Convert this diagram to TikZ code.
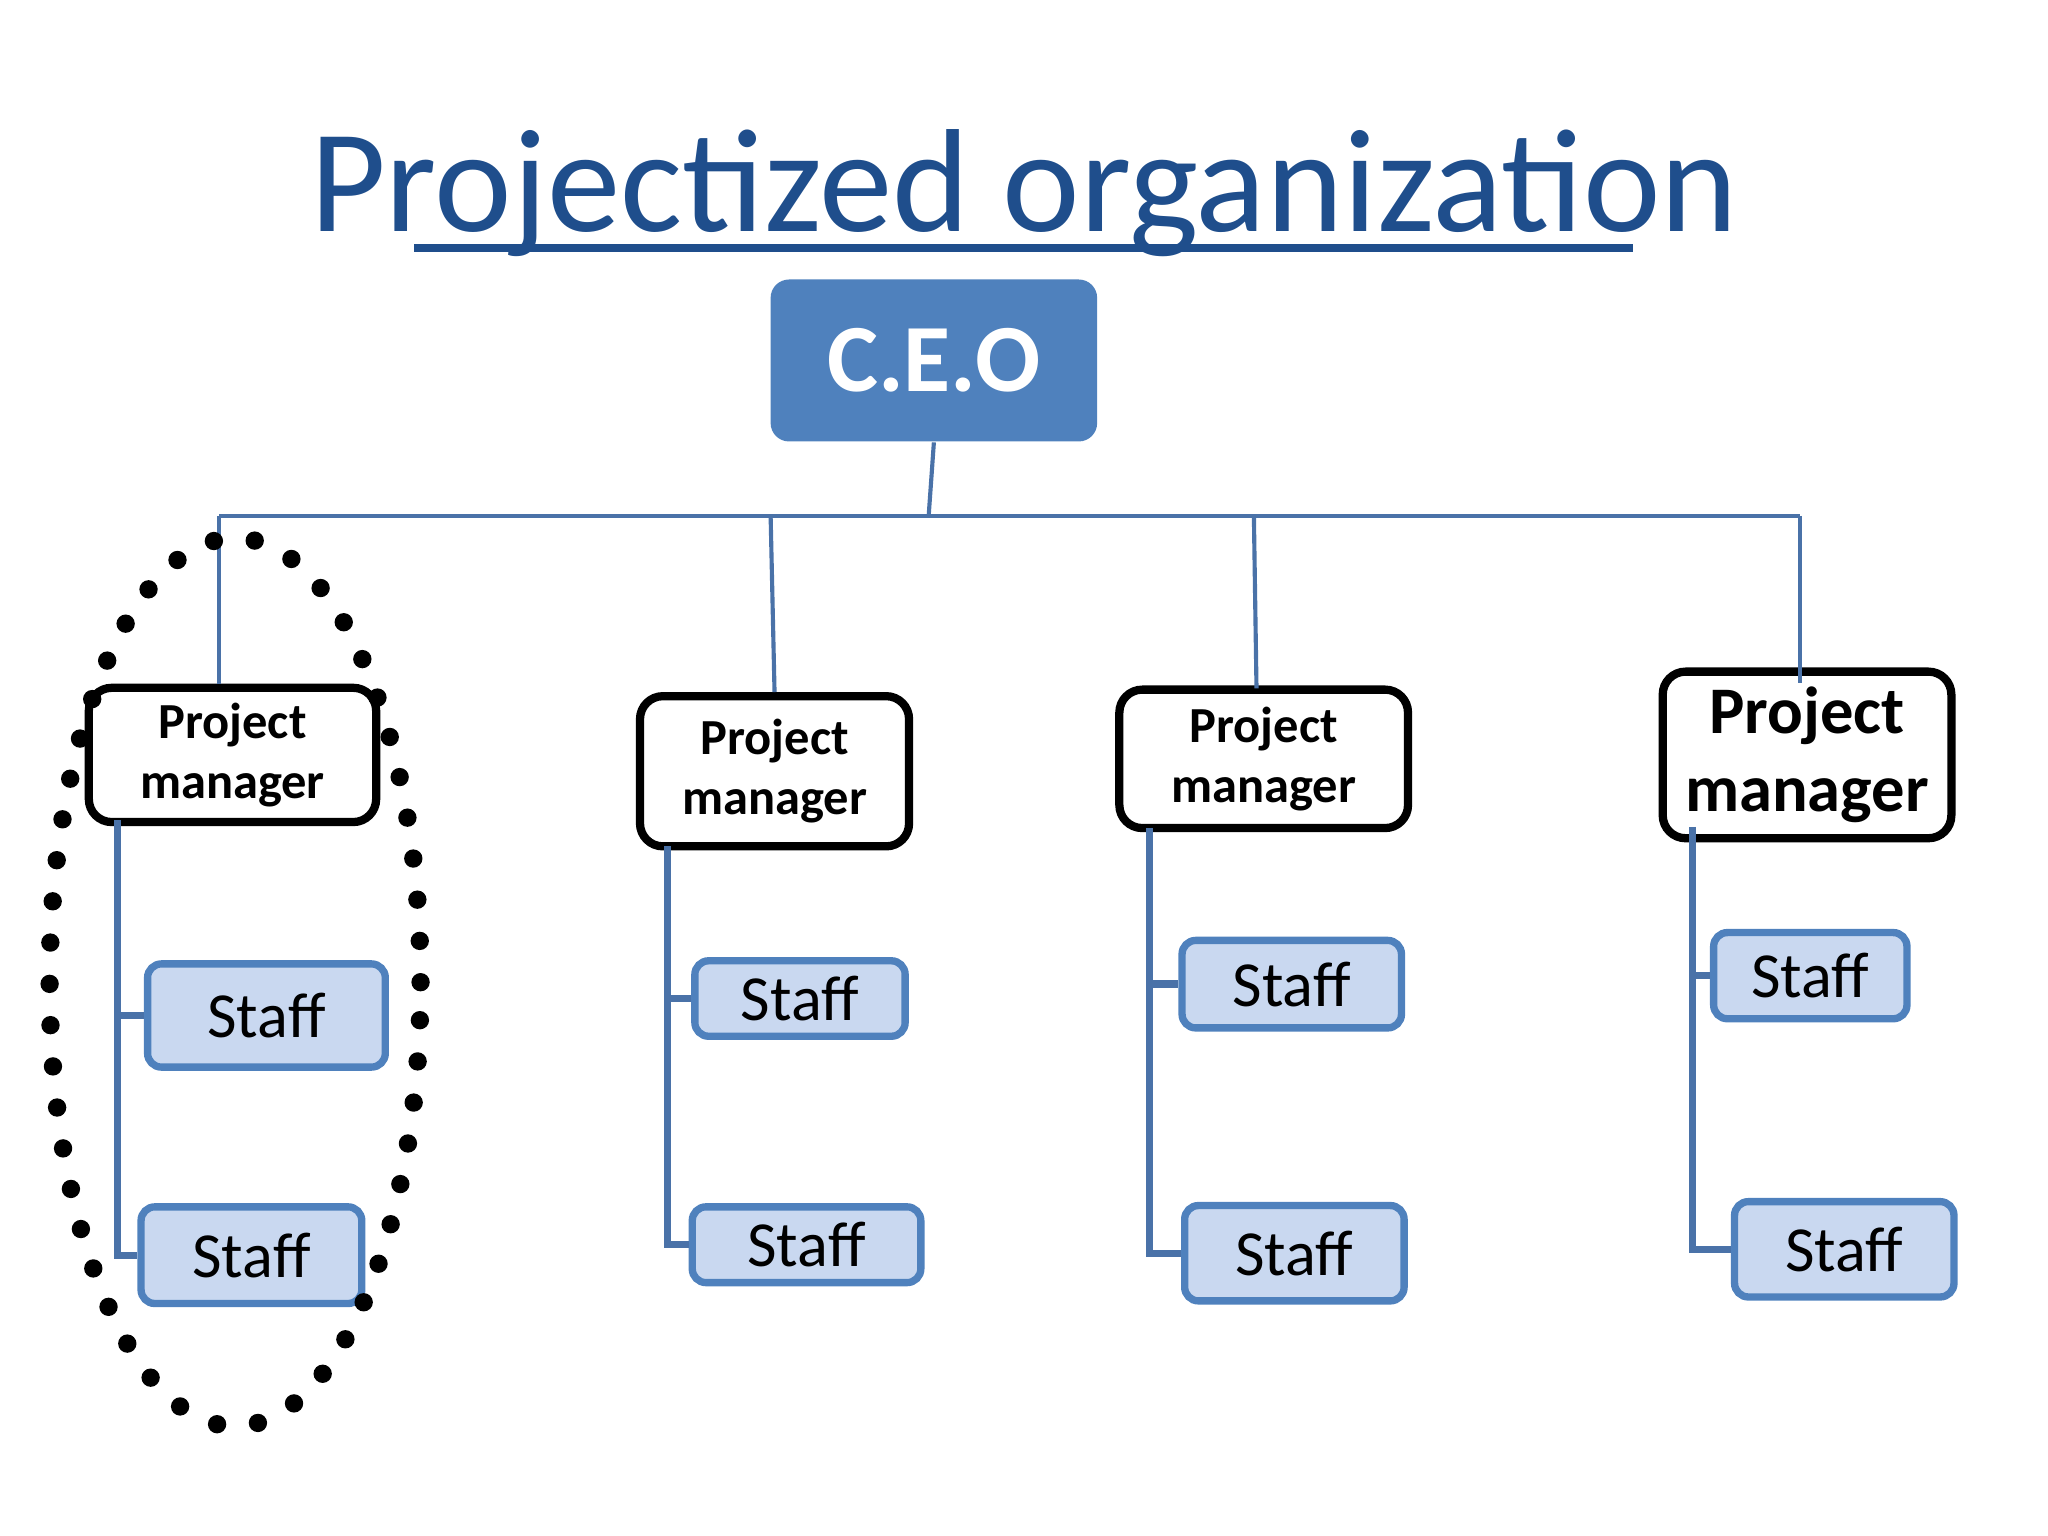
\documentclass[tikz,border=0pt]{standalone}
\usepackage{fontspec}
\usetikzlibrary{shapes.geometric}
\setmainfont{Carlito}
\definecolor{ttl}{HTML}{1F4E8C}
\definecolor{ceo}{HTML}{4F81BD}
\definecolor{stf}{HTML}{C9D8F0}
\definecolor{ln}{HTML}{4A72A8}
\begin{document}
\begin{tikzpicture}[x=1cm,y=1cm,
  ceobox/.style={fill=ceo,rounded corners=4pt,text=white,font=\bfseries\fontsize{21}{24}\selectfont},
  pmbox/.style={draw=black,line width=1.8pt,rounded corners=5pt,fill=white,align=center,font=\bfseries\fontsize{11}{13}\selectfont},
  stbox/.style={draw=ceo,line width=1.6pt,rounded corners=3pt,fill=stf,font=\fontsize{14}{16}\selectfont},
  thin/.style={draw=ln,line width=0.9pt},
  spine/.style={draw=ln,line width=1.6pt}]
\useasboundingbox (0,0) rectangle (15.68,-11.76);
\node[text=ttl,font=\fontsize{32}{36}\selectfont] (title) at (7.84,-1.48) {Projectized organization};
\draw[ttl,line width=1.8pt] (3.17,-1.90) -- (12.50,-1.90);
\node[ceobox,minimum width=2.5cm,minimum height=1.24cm] (ceo) at (7.15,-2.76) {C.E.O};
\coordinate (bar) at (7.11,-3.95);
\coordinate (bl) at (1.68,-3.95);
\coordinate (br) at (13.78,-3.95);
\draw[thin] (ceo.south) -- (bar);
\draw[thin] (bl) -- (br);
\node[pmbox,minimum width=2.2cm,minimum height=1.0cm] (pm1) at (1.78,-5.78) {Project\\manager};
\node[pmbox,minimum width=2.06cm,minimum height=1.15cm] (pm2) at (5.93,-5.905) {Project\\manager};
\node[pmbox,minimum width=2.21cm,minimum height=1.06cm] (pm3) at (9.675,-5.81) {Project\\manager};
\node[pmbox,minimum width=2.21cm,minimum height=1.10cm,font=\bfseries\fontsize{14.5}{17}\selectfont] (pm4) at (13.835,-5.78) {Project\\manager};
\draw[thin] (bl) -- (pm1.north -| bl);
\draw[thin] (5.90,-3.95) -- (pm2.north);
\draw[thin] (9.60,-3.95) -- (9.62,-5.27);
\draw[thin] (br) -- (13.78,-5.23);
\node[stbox,minimum width=1.82cm,minimum height=0.79cm] (s1a) at (2.04,-7.775) {Staff};
\node[stbox,minimum width=1.69cm,minimum height=0.74cm] (s1b) at (1.925,-9.61) {Staff};
\node[stbox,minimum width=1.61cm,minimum height=0.53cm] (s2a) at (6.125,-7.645) {Staff};
\node[stbox,minimum width=1.75cm,minimum height=0.58cm] (s2b) at (6.175,-9.53) {Staff};
\node[stbox,minimum width=1.68cm,minimum height=0.67cm] (s3a) at (9.89,-7.535) {Staff};
\node[stbox,minimum width=1.68cm,minimum height=0.73cm] (s3b) at (9.91,-9.595) {Staff};
\node[stbox,minimum width=1.48cm,minimum height=0.66cm] (s4a) at (13.86,-7.47) {Staff};
\node[stbox,minimum width=1.68cm,minimum height=0.73cm] (s4b) at (14.12,-9.565) {Staff};
\coordinate (sp1) at (0.90,-6.28);
\coordinate (sp2) at (5.11,-6.48);
\coordinate (sp3) at (8.80,-6.34);
\coordinate (sp4) at (12.96,-6.33);
\draw[spine] (sp1) |- (s1b.west); \draw[spine] (sp1 |- s1a.west) -- (s1a.west);
\draw[spine] (sp2) |- (s2b.west); \draw[spine] (sp2 |- s2a.west) -- (s2a.west);
\draw[spine] (sp3) |- (s3b.west); \draw[spine] (sp3 |- s3a.west) -- (s3a.west);
\draw[spine] (sp4) |- (s4b.west); \draw[spine] (sp4 |- s4a.west) -- (s4a.west);
\node[draw=black,line width=4pt,dash pattern=on 0pt off 9pt,line cap=round,ellipse,minimum width=2.84cm,minimum height=6.8cm,inner sep=0pt] (grp) at (1.80,-7.52) {};
\end{tikzpicture}
\end{document}
